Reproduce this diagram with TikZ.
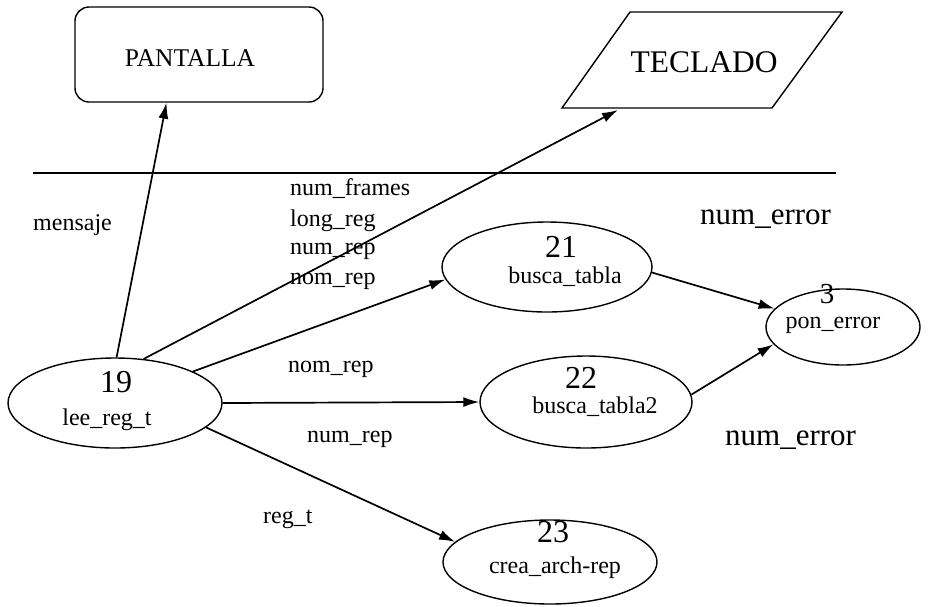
\documentclass[tikz,border=0pt]{standalone}
\usepackage{fontspec}
\setmainfont{Liberation Serif}
\usetikzlibrary{shapes.geometric,arrows.meta}
\begin{document}
\begin{tikzpicture}[x=1pt,y=-1pt,
  proc/.style={ellipse,draw,line width=1.4pt,inner sep=0pt},
  numtxt/.style={font=\fontsize{32}{32}\selectfont,inner sep=0pt,text height=21.6pt,text depth=0pt},
  nametxt/.style={font=\fontsize{24}{24}\selectfont,inner sep=0pt,text height=11pt,text depth=0pt},
  lbl/.style={font=\fontsize{24}{24}\selectfont,inner sep=0pt,text height=11pt,text depth=0pt,anchor=west},
  biglbl/.style={font=\fontsize{31}{31}\selectfont,inner sep=0pt,text height=14pt,text depth=0pt,anchor=west},
  flow/.style={-{Latex[length=16pt,width=10pt]},line width=1.7pt}]
\useasboundingbox (0,0) rectangle (931,606);

% terminators
\node[draw,rounded corners=14pt,line width=1.4pt,minimum width=248pt,minimum height=95pt,inner sep=0pt] (pant) at (199,54.5) {};
\node[font=\fontsize{25.5}{25.5}\selectfont,inner sep=0pt,text height=16.8pt,text depth=0pt] (panttxt) at (190,58) {PANTALLA};
\draw[line width=1.4pt] (562,108) -- (772,108) -- (842,12) -- (630,12) -- cycle;
\node[font=\fontsize{31.5}{31.5}\selectfont,inner sep=0pt,text height=20.8pt,text depth=0pt] (tec) at (704,62) {TECLADO};
\coordinate (tecin) at (618,110);

% boundary
\draw[line width=2.8pt] (33,173) -- (836,173);

% processes
\node[proc,minimum width=214pt,minimum height=90pt] (n19) at (115,403) {};
\node[numtxt] (t19) at (116,382) {19};
\node[nametxt] (s19) at (107,420) {lee\_reg\_t};

\node[proc,minimum width=210pt,minimum height=90pt] (n21) at (547,267) {};
\node[numtxt] (t21) at (561,247) {21};
\node[nametxt] (s21) at (565,278) {busca\_tabla};

\node[proc,minimum width=154pt,minimum height=76pt] (n3) at (843,327) {};
\node[numtxt,font=\fontsize{29}{29}\selectfont,text height=19.6pt] (t3) at (827,294) {3};
\node[nametxt] (s3) at (833,323) {pon\_error};

\node[proc,minimum width=212pt,minimum height=92pt] (n22) at (586,402) {};
\node[numtxt] (t22) at (581,378) {22};
\node[nametxt] (s22) at (595,408) {busca\_tabla2};

\node[proc,minimum width=214pt,minimum height=84pt] (n23) at (550,562) {};
\node[numtxt] (t23) at (553,532) {23};
\node[nametxt] (s23) at (555,568) {crea\_arch-rep};

% flows
\draw[flow] (n19.88) -- (pant.236);
\draw[flow] (n19.57) -- (tecin);
\draw[flow] (n19.22) -- (n21.187);
\draw[flow] (n19.east) -- (n22.west);
\draw[flow] (n19.-15) -- (n23.168);
\draw[flow] (n21.-3) -- (n3.165);
\draw[flow] (n22.4) -- (n3.194);

% labels
\node[lbl] (lmen) at (33,225) {mensaje};
\node[lbl] (lnf) at (290,190) {num\_frames};
\node[lbl] (llr) at (290,221) {long\_reg};
\node[lbl] (lnr1) at (290,249) {num\_rep};
\node[lbl] (lnom1) at (290,279) {nom\_rep};
\node[lbl] (lnom2) at (288,367) {nom\_rep};
\node[lbl] (lnr2) at (307,437) {num\_rep};
\node[lbl] (lreg) at (263,518) {reg\_t};
\node[biglbl] (ler1) at (700,217) {num\_error};
\node[biglbl] (ler2) at (725,438) {num\_error};
\end{tikzpicture}
\end{document}
